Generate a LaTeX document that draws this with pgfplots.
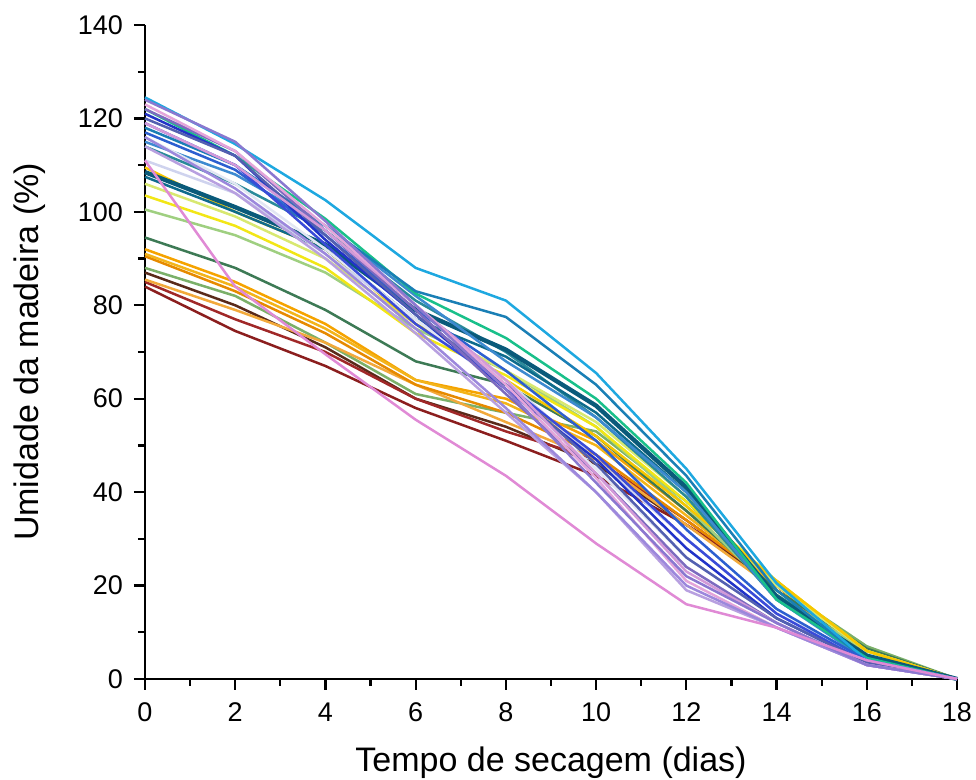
\documentclass[border=0pt]{standalone}
\usepackage{pgfplots}
\pgfplotsset{compat=1.18}
\usepackage{fontspec}
\setmainfont{Liberation Sans}
\definecolor{c1}{HTML}{1EA8E0}
\definecolor{c2}{HTML}{1A7FB5}
\definecolor{c3}{HTML}{19C08A}
\definecolor{c4}{HTML}{0A5A7A}
\definecolor{c5}{HTML}{0E6B8C}
\definecolor{c6}{HTML}{2A8A9A}
\definecolor{c7}{HTML}{F2E616}
\definecolor{c8}{HTML}{F7C600}
\definecolor{c9}{HTML}{D8E870}
\definecolor{c10}{HTML}{9FCF80}
\definecolor{c11}{HTML}{3D7A55}
\definecolor{c12}{HTML}{7BB069}
\definecolor{c13}{HTML}{F5A300}
\definecolor{c14}{HTML}{F3B41A}
\definecolor{c15}{HTML}{E68A00}
\definecolor{c16}{HTML}{F2A93B}
\definecolor{c17}{HTML}{5A2A1A}
\definecolor{c18}{HTML}{8B1E1E}
\definecolor{c19}{HTML}{A02828}
\definecolor{c20}{HTML}{E08AD5}
\definecolor{c21}{HTML}{2233C8}
\definecolor{c22}{HTML}{3A4BD8}
\definecolor{c23}{HTML}{2C5FD0}
\definecolor{c24}{HTML}{8A78D0}
\definecolor{c25}{HTML}{9C88DC}
\definecolor{c26}{HTML}{B8A0E0}
\definecolor{c27}{HTML}{D39AD8}
\definecolor{c28}{HTML}{7D6BBF}
\definecolor{c29}{HTML}{CFD3EE}
\definecolor{c30}{HTML}{E2E6F3}
\definecolor{c31}{HTML}{5360B0}
\definecolor{c32}{HTML}{E4A5DA}
\definecolor{c33}{HTML}{3D8AD0}
\begin{document}
\begin{tikzpicture}
\begin{axis}[
  scale only axis,
  width=406pt, height=327pt,
  xmin=0, xmax=18, ymin=0, ymax=140,
  axis lines*=left,
  axis line style={line width=1.3pt, -},
  xtick={0,2,...,18}, ytick={0,20,...,140},
  minor xtick={1,3,...,17}, minor ytick={10,30,...,130},
  tick align=outside,
  major tick length=5.5pt, minor tick length=3.5pt,
  every tick/.style={line width=1.1pt, black},
  tick label style={font=\fontsize{13.5}{15}\selectfont},
  xticklabel style={yshift=-3pt},
  yticklabel style={xshift=-2pt},
  /pgf/number format/assume math mode=true,
  xlabel={Tempo de secagem (dias)},
  ylabel={Umidade da madeira (\%)},
  label style={font=\fontsize{17}{20}\selectfont},
  xlabel style={at={(axis description cs:0.5,-0.1285)}, anchor=center},
  ylabel style={at={(axis description cs:-0.1416,0.5)}, anchor=center},
  clip=false,
  every axis plot/.append style={line width=1.25pt, line join=round, no marks},
]
\coordinate (ll) at (rel axis cs:0,0);
\coordinate (ur) at (rel axis cs:1,1);
\addplot[c17] coordinates {(0,87)(2,80)(4,71)(6,60)(8,54)(10,46)(12,33)(14,20)(16,5)(18,0)};
\addplot[c18] coordinates {(0,84)(2,74.5)(4,67)(6,58)(8,51)(10,43.5)(12,33)(14,21)(16,5)(18,0)};
\addplot[c19] coordinates {(0,85)(2,77)(4,70)(6,60)(8,53)(10,47)(12,34)(14,20)(16,5)(18,0)};
\addplot[c12] coordinates {(0,88)(2,82)(4,72)(6,61)(8,57)(10,53)(12,38)(14,20)(16,7)(18,0)};
\addplot[c16] coordinates {(0,85.5)(2,79)(4,72)(6,63)(8,55)(10,47)(12,33)(14,19)(16,5)(18,0)};
\addplot[c15] coordinates {(0,90.5)(2,83)(4,74)(6,63)(8,57)(10,48)(12,34)(14,20)(16,5)(18,0)};
\addplot[c13] coordinates {(0,92)(2,85)(4,76)(6,64)(8,60)(10,51)(12,36)(14,20)(16,6)(18,0)};
\addplot[c14] coordinates {(0,91)(2,84)(4,75)(6,64)(8,59)(10,50)(12,35)(14,20)(16,6)(18,0)};
\addplot[c11] coordinates {(0,94.5)(2,88)(4,79)(6,68)(8,63)(10,52)(12,36)(14,19)(16,6.5)(18,0)};
\addplot[c10] coordinates {(0,100.5)(2,95)(4,87)(6,75)(8,66)(10,54)(12,37)(14,18)(16,6)(18,0)};
\addplot[c9] coordinates {(0,106)(2,99)(4,90)(6,76)(8,66)(10,55)(12,39)(14,20)(16,6)(18,0)};
\addplot[c7] coordinates {(0,103.5)(2,97)(4,88)(6,74)(8,65)(10,54)(12,38)(14,21)(16,6)(18,0)};
\addplot[c8] coordinates {(0,109.5)(2,100)(4,92)(6,76)(8,64)(10,52)(12,37)(14,21)(16,6)(18,0)};
\addplot[c6] coordinates {(0,114)(2,106)(4,96)(6,81)(8,70)(10,56)(12,39)(14,17)(16,4.5)(18,0)};
\addplot[c5] coordinates {(0,107.5)(2,100)(4,92)(6,77)(8,69)(10,57)(12,40)(14,18)(16,5)(18,0)};
\addplot[c4, line width=2.2pt] coordinates {(0,108.5)(2,101)(4,93)(6,79)(8,70.5)(10,58.5)(12,41)(14,17.5)(16,5)(18,0)};
\addplot[c33] coordinates {(0,115)(2,108)(4,97)(6,82)(8,68)(10,56)(12,40)(14,17)(16,4)(18,0)};
\addplot[c3] coordinates {(0,122)(2,112)(4,98.5)(6,82.5)(8,73)(10,60)(12,42)(14,17)(16,4.5)(18,0)};
\addplot[c2] coordinates {(0,118)(2,110)(4,97)(6,83)(8,77.5)(10,63)(12,43.5)(14,19)(16,4)(18,0)};
\addplot[c1] coordinates {(0,124.5)(2,114.5)(4,102.5)(6,88)(8,81)(10,65.5)(12,45)(14,20.5)(16,4)(18,0)};
\addplot[c29] coordinates {(0,111)(2,104)(4,91)(6,77)(8,64)(10,47)(12,30)(14,14)(16,4)(18,0)};
\addplot[c30] coordinates {(0,116)(2,106)(4,92)(6,77)(8,62)(10,45)(12,26)(14,13)(16,3.5)(18,0)};
\addplot[c23] coordinates {(0,117)(2,109)(4,95)(6,79)(8,66)(10,51)(12,32)(14,15)(16,4)(18,0)};
\addplot[c21] coordinates {(0,121)(2,112)(4,94)(6,78)(8,62)(10,47)(12,28)(14,13)(16,3.5)(18,0)};
\addplot[c22] coordinates {(0,119)(2,110)(4,93)(6,76)(8,63)(10,48)(12,30)(14,14)(16,3.5)(18,0)};
\addplot[c31] coordinates {(0,120)(2,112)(4,95)(6,78)(8,63)(10,46)(12,26)(14,13)(16,3.5)(18,0)};
\addplot[c28] coordinates {(0,122)(2,113)(4,96)(6,79)(8,61)(10,44)(12,24)(14,12)(16,3)(18,0)};
\addplot[c27] coordinates {(0,119)(2,110)(4,96)(6,80)(8,64)(10,44)(12,23)(14,12)(16,3)(18,0)};
\addplot[c32] coordinates {(0,123)(2,113)(4,97)(6,80)(8,63)(10,43)(12,21)(14,11)(16,3)(18,0)};
\addplot[c26] coordinates {(0,114)(2,104)(4,90)(6,74)(8,57)(10,40)(12,19)(14,11)(16,3)(18,0)};
\addplot[c25] coordinates {(0,116)(2,105)(4,91)(6,75)(8,58)(10,40)(12,20)(14,11)(16,3)(18,0)};
\addplot[c24] coordinates {(0,124)(2,115)(4,98)(6,80)(8,62)(10,42)(12,22)(14,12)(16,3)(18,0)};
\addplot[c20] coordinates {(0,111)(2,84)(4,69.5)(6,55.5)(8,43.5)(10,29)(12,16)(14,11)(16,4)(18,0)};
\end{axis}
\pgfresetboundingbox
\path ([shift={(-72.5pt,-50.5pt)}]ll) rectangle ([shift={(9.5pt,12.5pt)}]ur);
\end{tikzpicture}
\end{document}
